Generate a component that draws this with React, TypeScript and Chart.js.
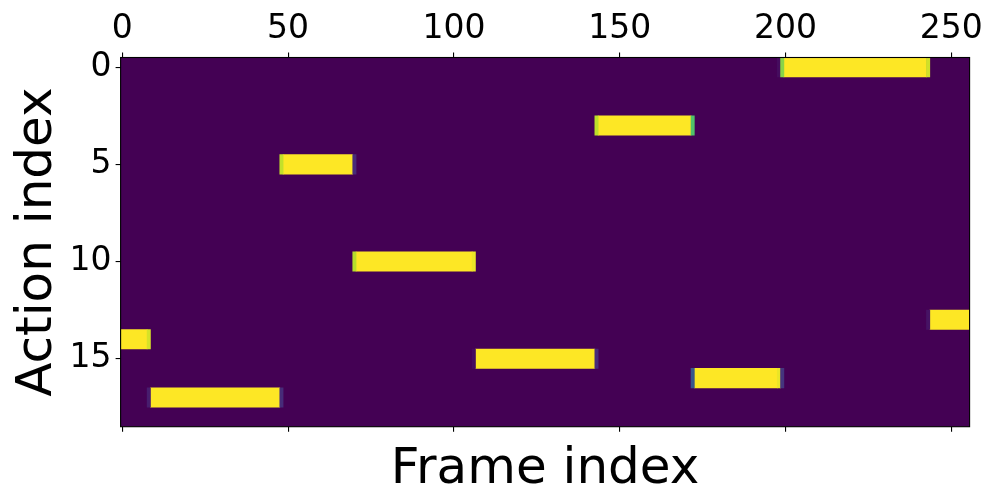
import React, { useEffect, useRef } from "react";
import { Chart, registerables } from "chart.js";

Chart.register(...registerables);

// Action rows (category labels) and tick values
const actionLabels = Array.from({ length: 19 }, (_, i) => String(i));
const xTickValues = [0, 50, 100, 150, 200, 250];
const yTickValues = [0, 5, 10, 15];

// Full-activation segments: action index, first and last frame (inclusive)
const segmentAction = [14, 17, 5, 10, 15, 3, 16, 0, 13];
const segmentFirstFrame = [0, 9, 49, 71, 107, 144, 173, 200, 244];
const segmentLastFrame = [7, 47, 69, 105, 142, 171, 197, 242, 255];

// Partial-activation frames at segment boundaries
const edgeAction = [14, 17, 17, 5, 5, 10, 10, 15, 15, 3, 3, 16, 16, 16, 0, 0, 0, 13];
const edgeFrame = [8, 8, 48, 48, 70, 70, 106, 106, 143, 143, 172, 172, 198, 199, 198, 199, 243, 243];
const edgeValue = [0.94, 0.08, 0.12, 0.91, 0.12, 0.89, 0.97, 0.03, 0.12, 0.9, 0.72, 0.27, 0.97, 0.15, 0.03, 0.82, 0.93, 0.05];

const VIRIDIS = ["#440154", "#482878", "#3e4a89", "#31688e", "#26828e", "#1f9e89", "#35b779", "#6ece58", "#b5de2b", "#fde725"];

function hexToRgb(h: string) {
  return [parseInt(h.slice(1, 3), 16), parseInt(h.slice(3, 5), 16), parseInt(h.slice(5, 7), 16)];
}

function viridis(v: number) {
  const t = Math.max(0, Math.min(1, v)) * (VIRIDIS.length - 1);
  const i = Math.min(Math.floor(t), VIRIDIS.length - 2);
  const f = t - i;
  const a = hexToRgb(VIRIDIS[i]);
  const b = hexToRgb(VIRIDIS[i + 1]);
  const c = a.map((x, k) => Math.round(x + (b[k] - x) * f));
  return `rgb(${c[0]},${c[1]},${c[2]})`;
}

const FONT = "'DejaVu Sans', sans-serif";

export default function App() {
  const ref = useRef<HTMLCanvasElement | null>(null);

  useEffect(() => {
    if (!ref.current) return;
    const cells: any[] = [];
    segmentAction.forEach((a, i) => {
      cells.push({ x: [segmentFirstFrame[i] - 0.5, segmentLastFrame[i] + 0.5], y: actionLabels[a], v: 1 });
    });
    edgeAction.forEach((a, i) => {
      cells.push({ x: [edgeFrame[i] - 0.5, edgeFrame[i] + 0.5], y: actionLabels[a], v: edgeValue[i] });
    });

    const heatFrame = {
      id: "heatFrame",
      beforeDatasetsDraw(chart: any) {
        const { ctx, chartArea: ca } = chart;
        ctx.save();
        ctx.fillStyle = viridis(0);
        ctx.fillRect(ca.left, ca.top, ca.right - ca.left, ca.bottom - ca.top);
        ctx.restore();
      },
      afterDatasetsDraw(chart: any) {
        const { ctx, chartArea: ca } = chart;
        ctx.save();
        ctx.strokeStyle = "#000";
        ctx.lineWidth = 1.1;
        ctx.strokeRect(ca.left, ca.top, ca.right - ca.left, ca.bottom - ca.top);
        ctx.restore();
      },
    };

    const tickGrid = {
      display: true,
      drawOnChartArea: false,
      drawTicks: true,
      tickLength: 5,
      color: "#000",
      lineWidth: 1.1,
      offset: false,
    };

    const chart = new Chart(ref.current, {
      type: "bar",
      data: {
        labels: actionLabels,
        datasets: [
          {
            data: cells,
            backgroundColor: (c: any) => viridis(c.raw ? c.raw.v : 0),
            borderWidth: 0,
            barPercentage: 1,
            categoryPercentage: 1,
            xAxisID: "x",
            yAxisID: "y",
          } as any,
        ],
      },
      plugins: [heatFrame],
      options: {
        indexAxis: "y",
        animation: false,
        responsive: false,
        events: [],
        layout: { padding: { left: 0, top: 0, right: 30.4, bottom: 0 } },
        plugins: { legend: { display: false }, tooltip: { enabled: false } },
        scales: {
          x: {
            type: "linear",
            position: "top",
            min: -0.5,
            max: 255.5,
            afterBuildTicks: (s: any) => {
              s.ticks = xTickValues.map((v) => ({ value: v }));
            },
            afterFit: (s: any) => {
              s.height = 57.5;
            },
            ticks: { color: "#000", font: { family: FONT, size: 33 }, padding: 3, maxRotation: 0, autoSkip: false },
            grid: tickGrid,
            border: { display: false },
          },
          x2: {
            type: "linear",
            position: "bottom",
            min: -0.5,
            max: 255.5,
            afterBuildTicks: (s: any) => {
              s.ticks = xTickValues.map((v) => ({ value: v }));
            },
            afterFit: (s: any) => {
              s.height = 73.3;
            },
            ticks: { display: false },
            grid: tickGrid,
            border: { display: false },
            title: {
              display: true,
              text: "Frame index",
              color: "#000",
              font: { family: FONT, size: 50 },
              padding: { top: 8, bottom: 0 },
            },
          },
          y: {
            type: "category",
            offset: true,
            afterBuildTicks: (s: any) => {
              s.ticks = yTickValues.map((v) => ({ value: v }));
            },
            afterFit: (s: any) => {
              s.width = 120.6;
            },
            ticks: { color: "#000", font: { family: FONT, size: 33 }, padding: 4, autoSkip: false },
            grid: tickGrid,
            border: { display: false },
            title: {
              display: true,
              text: "Action index",
              color: "#000",
              font: { family: FONT, size: 50 },
              padding: { top: 8, bottom: 0 },
            },
          },
        },
      } as any,
    });
    return () => chart.destroy();
  }, []);

  return (
    <div style={{ position: "fixed", left: 0, top: 0, width: 1000, height: 500, background: "#fff" }}>
      <canvas ref={ref} width={1000} height={500} />
    </div>
  );
}
